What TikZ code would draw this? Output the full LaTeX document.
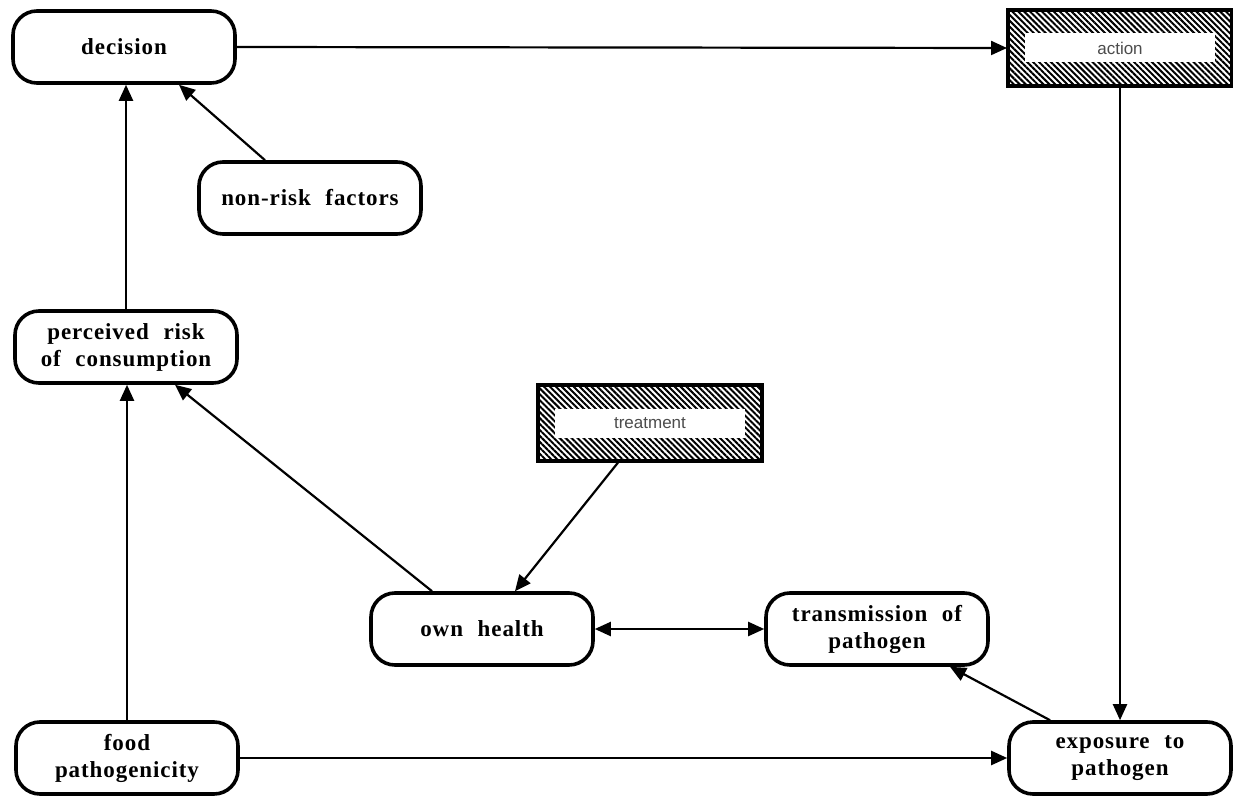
\documentclass[tikz,border=0pt]{standalone}
\usepackage{fontspec}
\setmainfont{Liberation Serif}[WordSpace=2.2,LetterSpace=4]
\newfontfamily\lblfont{Liberation Sans}
\usetikzlibrary{arrows.meta,patterns.meta}
\begin{document}
\begin{tikzpicture}[x=1pt,y=-1pt,
 rnode/.style={draw,line width=3.6pt,rounded corners=24pt,minimum width=222pt,minimum height=72pt,align=center,font=\bfseries\fontsize{23}{27}\selectfont,inner sep=0pt},
 hbox/.style={draw,line width=3.2pt,minimum width=224pt,minimum height=76pt,pattern={Lines[angle=-45,distance=4.2pt,line width=2pt]},inner sep=0pt},
 hlbl/.style={fill=white,minimum width=190pt,minimum height=29pt,font=\lblfont\fontsize{17}{19}\selectfont,text=black!70,inner sep=0pt},
 arr/.style={line width=2.2pt,-{Triangle[length=16pt,width=14pt]}},
 darr/.style={line width=2.2pt,{Triangle[length=16pt,width=14pt]}-{Triangle[length=16pt,width=14pt]}}
]
\useasboundingbox (0,0) rectangle (1233,799);

\node[rnode] (decision) at (124,47) {decision};
\node[rnode] (nonrisk) at (310,198) {non-risk factors};
\node[rnode] (perceived) at (126,347) {perceived risk\\of consumption};
\node[rnode] (own) at (482,629) {own health};
\node[rnode] (trans) at (877,629) {transmission of\\pathogen};
\node[rnode] (food) at (127,758) {food\\pathogenicity};
\node[rnode] (expo) at (1120,758) {exposure to\\pathogen};

\node[hbox] (action) at (1120,48) {};
\node[hlbl] (actionlbl) at (action.center) {action};
\node[hbox] (treat) at (650,423) {};
\node[hlbl] (treatlbl) at (treat.center) {treatment};

\draw[arr] (decision.east) -- (action.west);
\draw[arr] (perceived.north) -- (perceived.north |- decision.south);
\draw[arr] ([xshift=-45pt]nonrisk.north) -- ([xshift=55pt]decision.south);
\draw[arr] (food.north) -- (food.north |- perceived.south);
\draw[arr] ([xshift=-50pt]own.north) -- ([xshift=49pt]perceived.south);
\draw[arr] ([xshift=-32pt]treat.south) -- ([xshift=33pt]own.north);
\draw[darr] (own.east) -- (trans.west);
\draw[arr] ([xshift=-70pt]expo.north) -- ([xshift=73pt]trans.south);
\draw[arr] (action.south) -- (expo.north);
\draw[arr] (food.east) -- (expo.west);
\end{tikzpicture}
\end{document}
